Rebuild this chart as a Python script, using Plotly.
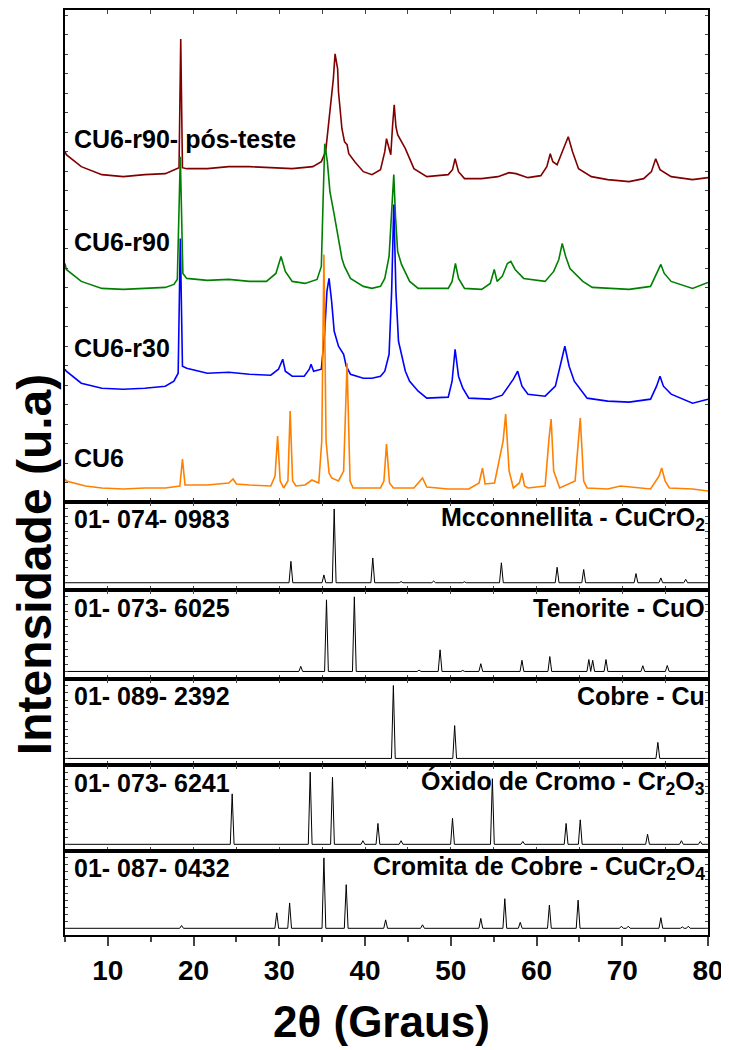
import plotly.graph_objects as go
from plotly.subplots import make_subplots

theta_min, theta_max = 5, 80

cu6_r90_pos_teste = [
    (5.0, 30), (5.15, 27), (6.9, 15), (9.3, 7), (11.8, 5), (14.3, 7), (16.7, 8), (17.9, 12),
    (18.3, 14), (18.5, 143), (18.7, 14), (19.2, 13), (21.6, 13), (24.1, 15), (26.5, 15),
    (29.0, 14), (31.5, 13), (33.9, 15), (34.9, 20), (35.4, 30), (35.6, 47), (36.0, 80),
    (36.3, 103), (36.5, 128), (36.8, 113), (36.9, 90), (37.3, 53), (37.6, 40), (37.9, 37),
    (38.1, 28), (38.8, 20), (39.8, 10), (40.8, 7), (41.8, 12), (42.3, 30), (42.5, 43),
    (42.8, 33), (43.0, 27), (43.2, 55), (43.4, 77), (43.6, 55), (43.8, 47), (44.7, 33),
    (45.7, 13), (47.2, 5), (49.7, 7), (50.2, 12), (50.5, 23), (50.9, 10), (51.6, 3),
    (53.6, 3), (55.5, 5), (56.8, 9), (57.6, 8), (59.0, 4), (60.5, 6), (61.2, 15), (61.6, 28),
    (61.9, 20), (62.4, 17), (63.0, 30), (63.7, 45), (64.2, 30), (64.9, 13), (66.4, 5),
    (68.3, 2), (70.8, 0), (72.5, 3), (73.4, 10), (73.9, 23), (74.4, 12), (75.7, 5),
    (78.2, 2), (80.0, 4),
]
cu6_r90 = [
    (5.0, 26), (5.15, 20), (6.9, 8), (9.3, 1), (11.8, 0), (14.3, 1), (16.7, 2), (17.7, 5),
    (18.1, 10), (18.45, 133), (18.75, 16), (19.2, 11), (21.6, 9), (24.1, 10), (26.5, 8),
    (28.5, 8), (29.6, 16), (30.2, 33), (30.7, 18), (31.5, 8), (33.0, 6), (34.4, 10),
    (34.9, 23), (35.1, 88), (35.3, 146), (35.6, 128), (35.9, 98), (36.4, 75), (36.9, 48),
    (37.3, 31), (37.6, 23), (38.3, 11), (39.8, 3), (40.8, 1), (41.8, 3), (42.3, 11),
    (42.8, 33), (43.1, 73), (43.35, 115), (43.55, 73), (43.8, 38), (44.25, 25), (45.2, 8),
    (46.2, 1), (49.7, 1), (50.15, 8), (50.54, 26), (50.9, 11), (51.6, 1), (53.6, 0),
    (54.6, 6), (55.07, 20), (55.4, 8), (56.0, 13), (56.6, 26), (57.0, 28), (57.5, 20),
    (58.5, 11), (61.0, 8), (62.0, 18), (62.6, 30), (63.0, 46), (63.4, 33), (63.9, 21),
    (65.4, 8), (66.5, 2), (68.3, 1), (70.8, 0), (73.3, 3), (74.0, 15), (74.5, 25),
    (74.9, 16), (75.7, 8), (78.2, 1), (80.0, 7),
]
cu6_r30 = [
    (5.0, 32), (5.15, 30), (6.9, 18), (9.3, 13), (11.8, 12), (14.3, 13), (16.7, 15),
    (17.7, 20), (18.2, 28), (18.45, 163), (18.7, 35), (19.2, 33), (21.6, 28), (24.1, 29),
    (26.5, 27), (29.0, 26), (29.9, 32), (30.4, 42), (30.7, 30), (31.5, 25), (32.9, 25),
    (33.5, 32), (33.7, 37), (34.0, 30), (34.9, 32), (35.3, 70), (35.55, 110), (35.8, 123),
    (36.1, 100), (36.4, 70), (36.9, 55), (37.3, 50), (37.5, 47), (37.8, 35), (38.3, 27),
    (39.8, 23), (40.8, 23), (41.8, 25), (42.3, 30), (42.8, 47), (43.1, 110), (43.35, 197),
    (43.6, 110), (43.9, 60), (44.25, 47), (44.7, 30), (45.2, 20), (46.2, 10), (47.2, 3),
    (49.7, 4), (50.15, 20), (50.5, 52), (50.9, 25), (51.4, 13), (52.1, 3), (54.6, 2),
    (56.0, 6), (57.3, 22), (57.8, 30), (58.3, 15), (59.0, 7), (61.0, 5), (62.2, 15),
    (62.8, 38), (63.3, 55), (63.8, 35), (64.4, 20), (65.9, 3), (68.3, 0), (70.8, -1),
    (73.3, 2), (74.0, 15), (74.4, 25), (74.8, 15), (75.7, 7), (78.2, -2), (80.0, 2),
]
cu6 = [
    (5.0, 12), (5.15, 10), (7.4, 5), (9.3, 3), (11.8, 2), (14.3, 3), (16.7, 3), (18.4, 5),
    (18.7, 32), (19.0, 6), (21.6, 6), (24.1, 8), (24.6, 12), (25.0, 7), (26.5, 6), (29.0, 5),
    (29.5, 15), (29.8, 55), (30.1, 10), (30.5, 3), (31.0, 10), (31.26, 80), (31.55, 10),
    (31.95, 5), (33.0, 6), (33.8, 11), (34.6, 8), (34.95, 50), (35.2, 237), (35.45, 50),
    (35.8, 18), (36.1, 13), (36.9, 10), (37.5, 20), (37.9, 128), (38.25, 10), (38.6, 3),
    (39.8, 3), (41.8, 3), (42.2, 10), (42.5, 47), (42.85, 8), (43.3, 3), (45.7, 3),
    (46.7, 13), (47.2, 4), (49.7, 2), (52.1, 2), (53.3, 8), (53.7, 23), (54.0, 7), (55.1, 8),
    (56.1, 50), (56.4, 77), (56.8, 20), (57.3, 3), (58.0, 8), (58.3, 18), (58.6, 5),
    (59.0, 3), (61.0, 5), (61.46, 53), (61.7, 72), (62.0, 20), (62.7, 3), (64.5, 10),
    (65.1, 73), (65.5, 10), (65.9, 3), (68.3, 2), (69.8, 5), (73.3, 2), (74.3, 15),
    (74.6, 23), (75.0, 10), (75.5, 3), (78.2, 2), (80.0, 0),
]

sample_names = ["CU6-r90- pós-teste", "CU6-r90", "CU6-r30", "CU6"]
sample_data = [cu6_r90_pos_teste, cu6_r90, cu6_r30, cu6]
sample_offsets = [321, 213, 101, 11]
sample_colors = ["#800000", "#008000", "#0000FF", "#FF8000"]

# ---- Reference cards: (2theta, relative intensity %) ----
card_codes = ["01- 074- 0983", "01- 073- 6025", "01- 089- 2392", "01- 073- 6241", "01- 087- 0432"]
card_names = [
    "Mcconnellita - CuCrO<sub>2</sub>",
    "Tenorite - CuO",
    "Cobre - Cu",
    "Óxido de Cromo - Cr<sub>2</sub>O<sub>3</sub>",
    "Cromita de Cobre - CuCr<sub>2</sub>O<sub>4</sub>",
]
mcconnellita_peaks = [(31.35, 29), (35.2, 10.6), (36.4, 100), (40.9, 33.6), (44.2, 1.5),
                      (48.0, 2.3), (51.6, 1.2), (55.9, 27), (62.4, 21), (65.5, 18),
                      (71.6, 12.4), (74.5, 6.5), (77.4, 4.6)]
tenorite_peaks = [(32.5, 6.8), (35.5, 96), (38.75, 100), (46.3, 1.8), (48.75, 29), (51.4, 1.4),
                  (53.5, 10.4), (58.3, 15), (61.55, 20), (66.1, 16), (66.55, 15), (68.1, 16),
                  (72.4, 7.7), (75.25, 8)]
cobre_peaks = [(43.3, 100), (50.45, 45), (74.15, 22)]
cr2o3_peaks = [(24.5, 70), (33.6, 100), (36.2, 93), (39.75, 5), (41.5, 29), (44.2, 5),
               (50.2, 36), (54.85, 91), (58.4, 4), (63.45, 29), (65.1, 34), (72.95, 14),
               (76.9, 5), (79.1, 4)]
cucr2o4_peaks = [(18.6, 4), (29.7, 22), (31.2, 36), (35.2, 100), (37.8, 62), (42.4, 12),
                 (46.7, 5), (53.5, 14), (56.3, 42), (58.1, 8.5), (61.5, 33), (64.85, 40),
                 (69.9, 3), (70.7, 3), (74.5, 15), (77.0, 2), (77.7, 3)]
card_peaks = [mcconnellita_peaks, tenorite_peaks, cobre_peaks, cr2o3_peaks, cucr2o4_peaks]

x_ticks = [10, 20, 30, 40, 50, 60, 70, 80]

FONT = "Liberation Sans, Arial, Helvetica, sans-serif"
HALF_W = 0.22


def stick_profile(peaks):
    xs, ys = [theta_min], [0]
    for pos, h in sorted(peaks):
        xs += [pos - HALF_W, pos, pos + HALF_W]
        ys += [0, h, 0]
    xs.append(theta_max)
    ys.append(0)
    return xs, ys


fig = make_subplots(rows=6, cols=1, shared_xaxes=True, vertical_spacing=0,
                    row_heights=[493, 88, 89, 87, 86, 84])

for name, data, off, col in zip(sample_names, sample_data, sample_offsets, sample_colors):
    fig.add_trace(go.Scatter(x=[p[0] for p in data], y=[p[1] + off for p in data],
                             mode="lines", line=dict(color=col, width=1.6), name=name),
                  row=1, col=1)

for i, peaks in enumerate(card_peaks):
    xs, ys = stick_profile(peaks)
    fig.add_trace(go.Scatter(x=xs, y=ys, mode="lines", line=dict(color="black", width=1),
                             name=card_codes[i]), row=i + 2, col=1)

# page body has an 8px margin: size the figure so it fits the 729x1050 window
fig.update_layout(width=721, height=1042, margin=dict(l=57, r=21, t=0, b=115),
                  plot_bgcolor="white", paper_bgcolor="white", showlegend=False,
                  font=dict(family=FONT, color="black"))

for r in range(1, 6):
    fig.update_xaxes(row=r, col=1, range=[theta_min, theta_max], showline=True, linewidth=2,
                     linecolor="black", mirror="allticks", ticks="inside", ticklen=4,
                     tickwidth=1, tickmode="linear", tick0=5, dtick=5, showticklabels=False,
                     showgrid=False, zeroline=False)
fig.update_xaxes(row=6, col=1, range=[theta_min, theta_max], showline=True, linewidth=2,
                 linecolor="black", mirror=True, ticks="outside", ticklen=9, tickwidth=2,
                 tickmode="array", tickvals=x_ticks, ticktext=[str(t) for t in x_ticks],
                 tickfont=dict(size=28, family=FONT, weight="bold"),
                 minor=dict(ticks="outside", ticklen=5, tickwidth=2, tickmode="linear",
                            tick0=5, dtick=10),
                 showgrid=False, zeroline=False, automargin=False)

fig.update_yaxes(showline=True, linewidth=2, linecolor="black", mirror="ticks", ticks="inside",
                 ticklen=3, tickwidth=1, showticklabels=False, showgrid=False, zeroline=False)
fig.update_yaxes(row=1, col=1, range=[0, 493], tickmode="linear", tick0=0, dtick=19.5)
for r in range(2, 7):
    fig.update_yaxes(row=r, col=1, range=[-9.5, 109.5], tickmode="linear", tick0=0, dtick=10)

label_font = dict(size=25, family=FONT, weight="bold", color="black")
label_y = [364, 261, 154, 44]
for name, yv in zip(sample_names, label_y):
    fig.add_annotation(x=5.8, y=yv, xref="x", yref="y", text=name, showarrow=False,
                       xanchor="left", yanchor="middle", font=label_font)

for i in range(5):
    yref = f"y{i + 2} domain"
    fig.add_annotation(x=5.8, y=0.8, xref="x", yref=yref, text=card_codes[i], showarrow=False,
                       xanchor="left", yanchor="middle", font=label_font)
    fig.add_annotation(x=79.9, y=0.8, xref="x", yref=yref, text=card_names[i], showarrow=False,
                       xanchor="right", yanchor="middle", font=label_font)

fig.add_annotation(x=0.493, y=-0.094, xref="paper", yref="paper", text="2θ (Graus)",
                   showarrow=False, xanchor="center", yanchor="middle",
                   font=dict(size=44, family=FONT, weight="bold", color="black"))
fig.add_annotation(x=-0.048, y=0.40, xref="paper", yref="paper", text="Intensidade (u.a)",
                   showarrow=False, xanchor="center", yanchor="middle", textangle=-90,
                   font=dict(size=48, family=FONT, weight="bold", color="black"))

fig.write_html("out.html")
